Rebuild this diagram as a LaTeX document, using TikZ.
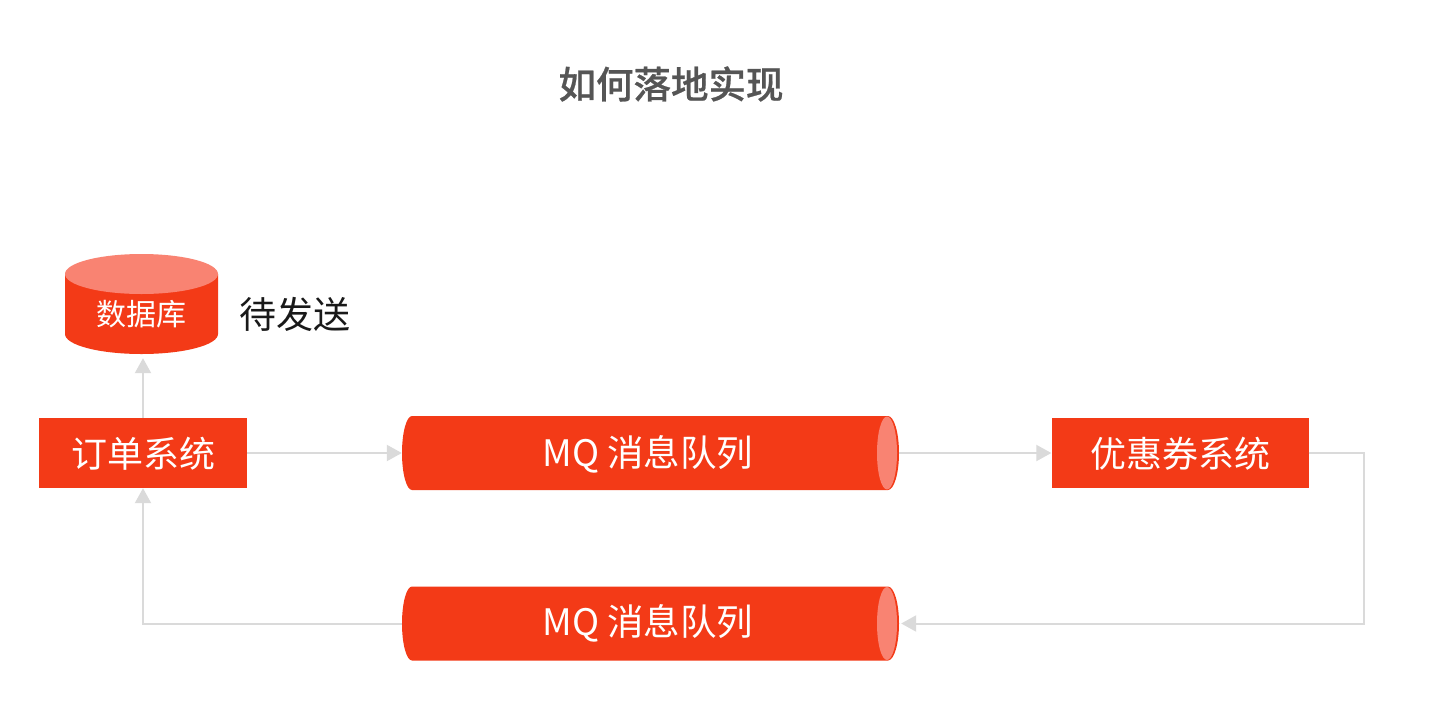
\documentclass[tikz,border=0pt]{standalone}
\usepackage{fontspec}
\setmainfont{Noto Sans CJK SC}
\newfontfamily\titlefont[FakeBold=0.6]{Noto Sans CJK SC Medium}
\usetikzlibrary{arrows.meta}
\definecolor{brand}{HTML}{F33A17}
\definecolor{lite}{HTML}{F98372}
\definecolor{wire}{HTML}{DADADA}
\tikzset{
  boxnode/.style={draw=none,fill=brand,text=white,inner sep=0pt,font=\fontsize{36}{36}\selectfont},
  anchorbox/.style={draw=none,inner sep=0pt,minimum width=497pt,minimum height=74pt},
  link/.style={draw=wire,line width=2pt,-{Triangle[length=15pt,width=16pt]}},
  pipetext/.style={text=white,font=\fontsize{36.5}{36.5}\selectfont}
}
\newcommand{\pipeshape}[1]{%
  \begin{scope}[yshift=#1]
    \fill[brand] (412,-37) -- (888,-37) arc[start angle=-90,end angle=90,x radius=11,y radius=37]
      -- (412,37) arc[start angle=90,end angle=270,x radius=10,y radius=37] -- cycle;
    \fill[lite] (887,0) ellipse [x radius=10,y radius=36.5];
  \end{scope}}
\begin{document}
\begin{tikzpicture}[x=1pt,y=-1pt]
\useasboundingbox (0,0) rectangle (1443,702);
\fill[white] (0,0) rectangle (1443,702);
\node (title) at (671,84) {\fontsize{37.5}{37.5}\selectfont\color[HTML]{555555}\titlefont 如何落地实现};
% database drum
\fill[brand] (65,274) -- (65,334) arc[start angle=180,end angle=0,x radius=76.5,y radius=20] -- (218,274) -- cycle;
\fill[lite] (141.5,274) ellipse [x radius=76.5,y radius=20];
\node[draw=none,inner sep=0pt,minimum width=153pt,minimum height=100pt] (db) at (141.5,304) {};
\node[text=white,font=\fontsize{30}{30}\selectfont] (dbtext) at (141,314) {数据库};
\node[font=\fontsize{37}{37}\selectfont,text=black!90] (pending) at (295,314) {待发送};
\node[boxnode,minimum width=208pt,minimum height=70pt] (order) at (143,453) {};
\node[text=white,font=\fontsize{36}{36}\selectfont] (ordertext) at (143,454) {订单系统};
% pipes
\pipeshape{-453pt}
\pipeshape{-623.5pt}
\node[anchorbox] (mqa) at (650.5,453) {};
\node[pipetext] (mqatext) at (648,454) {MQ 消息队列};
\node[boxnode,minimum width=257pt,minimum height=70pt] (coupon) at (1180,453) {};
\node[text=white,font=\fontsize{36}{36}\selectfont] (coupontext) at (1180,454) {优惠券系统};
\node[anchorbox] (mqb) at (650.5,623.5) {};
\node[pipetext] (mqbtext) at (648,623) {MQ 消息队列};
\coordinate (turnr) at (1364,623.5);
\coordinate (turnl) at (order.south |- mqb.west);
\coordinate (dbfoot) at (order.north |- db.south);
\draw[link] (order.north) -- ([yshift=-4pt]dbfoot);
\draw[link] (order.east) -- (mqa.west);
\draw[link] (mqa.east) -- (coupon.west);
\draw[link] (coupon.east) -| (turnr) -- ([xshift=2pt]mqb.east);
\draw[link] (mqb.west) -- (turnl) -- (order.south);
\end{tikzpicture}
\end{document}
